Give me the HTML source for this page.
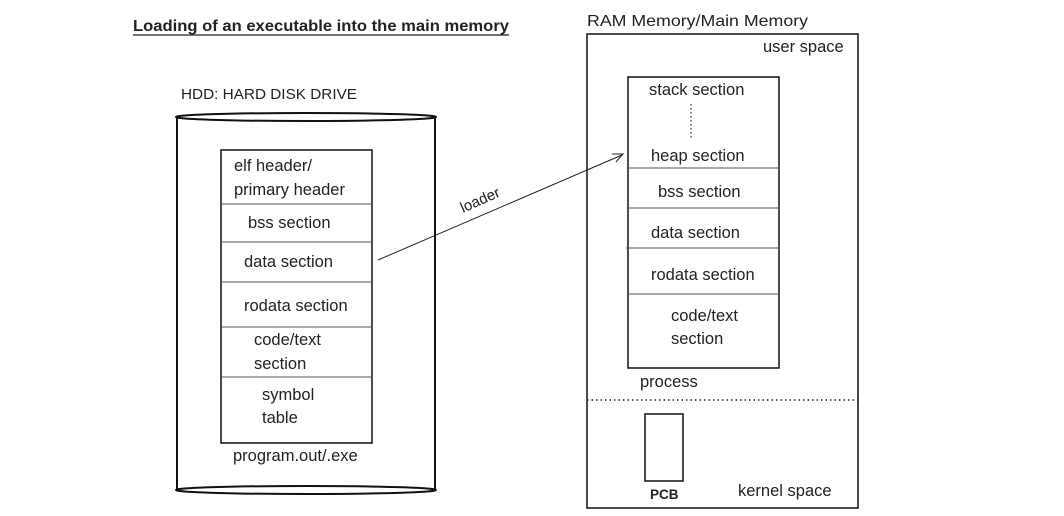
<!DOCTYPE html>
<html><head><style>
body{margin:0;background:#fff;}
svg text{font-family:"Liberation Sans",sans-serif;fill:#222;}
</style></head><body>
<svg width="1064" height="511" viewBox="0 0 1064 511" xmlns="http://www.w3.org/2000/svg">
<text x="133" y="31" font-size="16" font-weight="bold" textLength="376" lengthAdjust="spacingAndGlyphs">Loading of an executable into the main memory</text>
<line x1="133" y1="35" x2="509" y2="35" stroke="#222" stroke-width="1.2"/>
<text x="181" y="99" font-size="15" textLength="176" lengthAdjust="spacingAndGlyphs">HDD: HARD DISK DRIVE</text>
<!-- cylinder -->
<line x1="177" y1="118" x2="177" y2="490" stroke="#111" stroke-width="2"/>
<line x1="435" y1="118" x2="435" y2="490" stroke="#111" stroke-width="2"/>
<ellipse cx="306" cy="117" rx="130" ry="4" fill="none" stroke="#111" stroke-width="2"/>
<ellipse cx="306" cy="490" rx="130" ry="4" fill="none" stroke="#111" stroke-width="2"/>
<rect x="221" y="150" width="151" height="293" fill="none" stroke="#111" stroke-width="1.5"/>
<g stroke="#555" stroke-width="1">
<line x1="221" y1="204" x2="372" y2="204"/><line x1="221" y1="242" x2="372" y2="242"/>
<line x1="221" y1="282" x2="372" y2="282"/><line x1="221" y1="327" x2="372" y2="327"/>
<line x1="221" y1="377" x2="372" y2="377"/></g>
<g font-size="16.5">
<text x="234" y="171">elf header/</text><text x="234" y="195">primary header</text>
<text x="248" y="228">bss section</text><text x="244" y="267">data section</text>
<text x="244" y="311">rodata section</text><text x="254" y="345">code/text</text>
<text x="254" y="369">section</text><text x="262" y="400">symbol</text>
<text x="262" y="423">table</text><text x="233" y="461">program.out/.exe</text></g>
<!-- arrow -->
<line x1="378" y1="260" x2="622" y2="155" stroke="#222" stroke-width="1"/>
<polyline points="612,154 623,154 616,162" fill="none" stroke="#222" stroke-width="1"/>
<text x="0" y="0" font-size="15" transform="translate(463,213) rotate(-24)">loader</text>
<!-- RAM -->
<text x="587" y="26" font-size="16" textLength="221" lengthAdjust="spacingAndGlyphs">RAM Memory/Main Memory</text>
<rect x="587" y="34" width="271" height="474" fill="none" stroke="#111" stroke-width="1.5"/>
<text x="763" y="52" font-size="16.5">user space</text>
<rect x="628" y="77" width="151" height="291" fill="none" stroke="#111" stroke-width="1.5"/>
<line x1="691" y1="104" x2="691" y2="138" stroke="#333" stroke-width="1.2" stroke-dasharray="1.5,2.5"/>
<g stroke="#555" stroke-width="1">
<line x1="628" y1="168" x2="779" y2="168"/><line x1="628" y1="208" x2="779" y2="208"/>
<line x1="626" y1="248" x2="779" y2="248"/><line x1="628" y1="294" x2="779" y2="294"/></g>
<g font-size="16.5">
<text x="649" y="95">stack section</text><text x="651" y="161">heap section</text>
<text x="658" y="197">bss section</text><text x="651" y="238">data section</text>
<text x="651" y="280">rodata section</text><text x="671" y="321">code/text</text>
<text x="671" y="344">section</text><text x="640" y="387">process</text>
<text x="738" y="496">kernel space</text></g>
<line x1="587" y1="400" x2="858" y2="400" stroke="#222" stroke-width="1.5" stroke-dasharray="1.5,3"/>
<rect x="645" y="414" width="38" height="67" fill="none" stroke="#111" stroke-width="1.5"/>
<text x="650" y="499" font-size="13.5" font-weight="bold">PCB</text>
</svg>
</body></html>
